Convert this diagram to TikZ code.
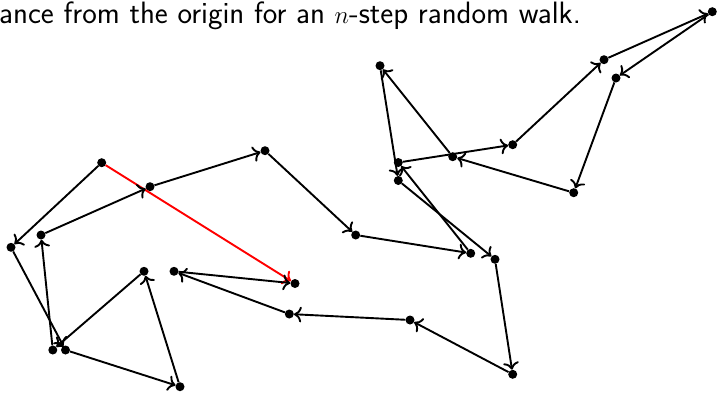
\documentclass[tikz,border=0pt]{standalone}
\usetikzlibrary{arrows.meta}
\begin{document}
\begin{tikzpicture}[x=1bp,y=-1bp,
  dot/.style={circle,fill=black,inner sep=0pt,minimum size=9bp},
  walkedge/.style={-{To[scale=1.3]},line width=1.9bp}]
\useasboundingbox (0,0) rectangle (717,393);
\node[anchor=base west,inner sep=0pt,font=\sffamily\fontsize{31}{36}\selectfont] (title) at (-1,23.5) {ance from the origin for an $n$-step random walk.};
\node[dot] (A) at (101.7,162.7) {};
\node[dot] (B) at (150,186.7) {};
\node[dot] (C) at (265,150.7) {};
\node[dot] (D) at (712.3,11.7) {};
\node[dot] (E) at (604,59.7) {};
\node[dot] (F) at (616,78) {};
\node[dot] (G) at (380,65.7) {};
\node[dot] (H) at (512.7,144.7) {};
\node[dot] (I) at (452.7,156.7) {};
\node[dot] (J) at (398.3,162.5) {};
\node[dot] (K) at (398.3,180.5) {};
\node[dot] (L) at (573.7,192.7) {};
\node[dot] (M) at (11,247.3) {};
\node[dot] (N) at (41,235) {};
\node[dot] (O) at (144,271.3) {};
\node[dot] (P) at (174,271.3) {};
\node[dot] (Q) at (295,283.5) {};
\node[dot] (R) at (289.3,314) {};
\node[dot] (S) at (52.8,350) {};
\node[dot] (T) at (65.5,350) {};
\node[dot] (U) at (180,386.7) {};
\node[dot] (V) at (355.7,235) {};
\node[dot] (W) at (470.7,253.3) {};
\node[dot] (X) at (495,259.3) {};
\node[dot] (Y) at (410,320) {};
\node[dot] (Z) at (512.7,374.3) {};
\draw[walkedge,red] (A) -- (Q);
\foreach \a/\b in {A/M,M/T,T/U,U/O,O/S,S/N,N/B,B/C,C/V,V/W,W/J,J/H,H/E,E/D,D/F,F/L,L/I,I/G,G/K,K/X,X/Z,Z/Y,Y/R,R/P,P/Q}
  \draw[walkedge] (\a) -- (\b);
\end{tikzpicture}
\end{document}
